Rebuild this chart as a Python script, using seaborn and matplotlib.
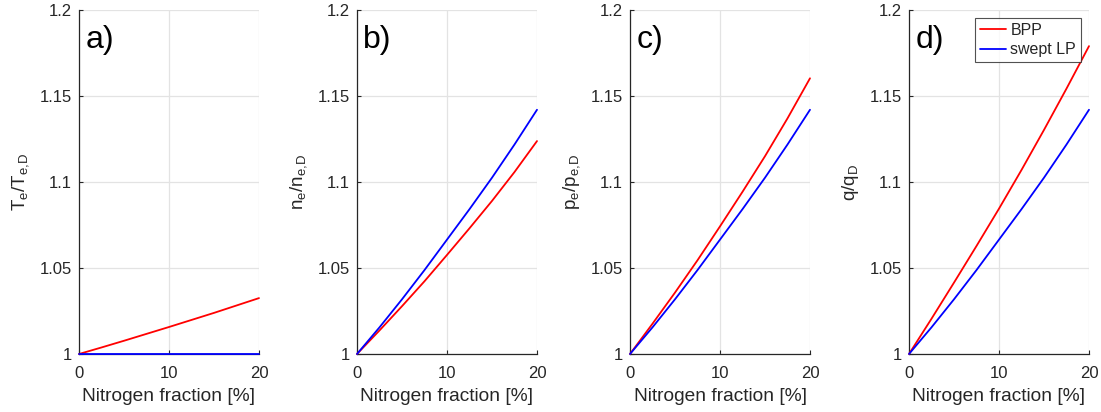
import numpy as np
import pandas as pd
import matplotlib
matplotlib.use("Agg")
import matplotlib.pyplot as plt
import seaborn as sns

# ---- data ----
nitrogen = [0, 2.5, 5, 7.5, 10, 12.5, 15, 17.5, 20]
Te_bpp = [1, 1.0038, 1.0077, 1.0117, 1.0157, 1.0198, 1.0239, 1.0282, 1.0325]
Te_lp = [1, 1, 1, 1, 1, 1, 1, 1, 1]
ne_bpp = [1, 1.0137, 1.0278, 1.0423, 1.0576, 1.0731, 1.0890, 1.1058, 1.1238]
ne_lp = [1, 1.0155, 1.0318, 1.0488, 1.0665, 1.0842, 1.1025, 1.1218, 1.142]
pe_bpp = [1, 1.0176, 1.0357, 1.0545, 1.0742, 1.0943, 1.1150, 1.1370, 1.1603]
pe_lp = [1, 1.0155, 1.0318, 1.0488, 1.0665, 1.0842, 1.1025, 1.1218, 1.142]
q_bpp = [1, 1.0205, 1.0415, 1.0628, 1.0845, 1.1070, 1.1303, 1.1543, 1.179]
q_lp = [1, 1.0155, 1.0318, 1.0488, 1.0665, 1.0842, 1.1025, 1.1218, 1.142]

panel_letters = ["a)", "b)", "c)", "d)"]
ylabels = [r"T$_e$/T$_{e{,}D}$", r"n$_e$/n$_{e{,}D}$", r"p$_e$/p$_{e{,}D}$", r"q/q$_D$"]
series_names = ["BPP", "swept LP"]
xticks = [0, 10, 20]
yticks = [1, 1.05, 1.1, 1.15, 1.2]
ytick_labels = ["1", "1.05", "1.1", "1.15", "1.2"]

panels = [(Te_bpp, Te_lp), (ne_bpp, ne_lp), (pe_bpp, pe_lp), (q_bpp, q_lp)]

sns.set_theme(style="white")
plt.rcParams["font.family"] = ["Liberation Sans", "DejaVu Sans"]
plt.rcParams["mathtext.default"] = "regular"

fig = plt.figure(figsize=(11.01, 4.12), dpi=100)
lefts = [79, 357, 630, 909]
W, H = 1101, 412
palette = {"BPP": "#ff0000", "swept LP": "#0000ff"}
dark = "#262626"

for i, (bpp, lp) in enumerate(panels):
    ax = fig.add_axes([lefts[i] / W, 1 - 354 / H, 180 / W, 344 / H])
    df = pd.DataFrame({
        "x": nitrogen * 2,
        "y": list(bpp) + list(lp),
        "case": [series_names[0]] * len(bpp) + [series_names[1]] * len(lp),
    })
    sns.lineplot(data=df, x="x", y="y", hue="case", palette=palette, ax=ax,
                 linewidth=1.3, legend=(i == 3), zorder=3)
    for ln in ax.lines:
        ln.set_clip_on(False)
        ln.set_zorder(3)
    ax.set_xlim(0, 20)
    ax.set_ylim(1, 1.2)
    ax.set_xticks(xticks)
    ax.set_yticks(yticks)
    ax.set_yticklabels(ytick_labels)
    ax.grid(True, color="#e3e3e3", linewidth=0.9)
    ax.set_axisbelow(True)
    for s in ["top", "right"]:
        ax.spines[s].set_visible(False)
    for s in ["left", "bottom"]:
        ax.spines[s].set_color(dark)
        ax.spines[s].set_linewidth(0.9)
    ax.tick_params(axis="y", direction="in", length=3, width=0.8,
                   colors=dark, labelsize=12, pad=5, left=True)
    ax.tick_params(axis="x", direction="in", length=3, width=0.8,
                   colors=dark, labelsize=12, pad=9, bottom=True)
    ax.set_xlabel("Nitrogen fraction [%]", fontsize=13.8, color=dark, labelpad=5)
    ax.set_ylabel(ylabels[i], fontsize=13.5, color=dark, labelpad=6)
    ax.text(0.035, 0.955, panel_letters[i], transform=ax.transAxes,
            fontsize=23, va="top", ha="left", color="black")
    if i == 3:
        leg = ax.legend(loc="upper right", fontsize=11.5, frameon=True,
                        fancybox=False, borderpad=0.3, handlelength=1.65,
                        handletextpad=0.25, labelspacing=0.3,
                        borderaxespad=0, bbox_to_anchor=(0.955, 0.977))
        leg.get_frame().set_edgecolor(dark)
        leg.get_frame().set_linewidth(0.8)
        for t in leg.get_texts():
            t.set_color(dark)

fig.savefig("out.png", dpi=100)
